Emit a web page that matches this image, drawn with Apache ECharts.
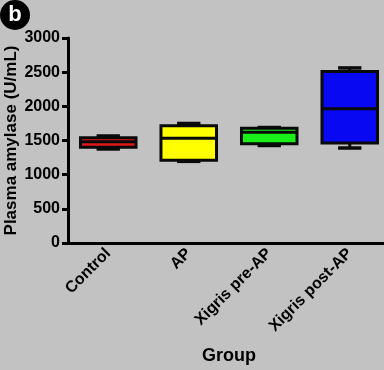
<!DOCTYPE html>
<html>
<head>
<meta charset="utf-8">
<script src="https://cdn.jsdelivr.net/npm/echarts@6/dist/echarts.min.js"></script>
<style>
html,body{margin:0;padding:0;background:#c2c2c2;}
#chart{width:384px;height:370px;}
</style>
</head>
<body>
<div id="chart"></div>
<script>
// Data
const categories = ['Control', 'AP', 'Xigris pre-AP', 'Xigris post-AP'];
const minVals    = [1376, 1195, 1427, 1390];
const q1Vals     = [1402, 1212, 1452, 1463];
const medianVals = [1480, 1532, 1620, 1965];
const q3Vals     = [1540, 1715, 1680, 2510];
const maxVals    = [1566, 1749, 1690, 2562];
const yTicks     = [0, 500, 1000, 1500, 2000, 2500, 3000];

const boxColors = ['#e01818', '#ffff00', '#19f019', '#0808f2'];

const seriesData = categories.map((c, i) => [i, minVals[i], q1Vals[i], medianVals[i], q3Vals[i], maxVals[i]]);

const chart = echarts.init(document.getElementById('chart'));
const font = 'Liberation Sans, Arial, sans-serif';

function renderItem(params, api) {
  const idx = api.value(0);
  const band = api.size([1, 0])[0];
  const boxW = band * 0.69;
  const capW = band * 0.29;
  const pMin = api.coord([idx, api.value(1)]);
  const pQ1 = api.coord([idx, api.value(2)]);
  const pMed = api.coord([idx, api.value(3)]);
  const pQ3 = api.coord([idx, api.value(4)]);
  const pMax = api.coord([idx, api.value(5)]);
  const cx = pMed[0];
  const black = '#0a0a0a';
  return {
    type: 'group',
    children: [
      { type: 'line', shape: {x1: cx, y1: pQ3[1], x2: cx, y2: pMax[1]}, style: {stroke: black, lineWidth: 3} },
      { type: 'line', shape: {x1: cx, y1: pQ1[1], x2: cx, y2: pMin[1]}, style: {stroke: black, lineWidth: 3} },
      { type: 'line', shape: {x1: cx - capW / 2, y1: pMax[1], x2: cx + capW / 2, y2: pMax[1]}, style: {stroke: black, lineWidth: 3.5} },
      { type: 'line', shape: {x1: cx - capW / 2, y1: pMin[1], x2: cx + capW / 2, y2: pMin[1]}, style: {stroke: black, lineWidth: 3.5} },
      { type: 'rect', shape: {x: cx - boxW / 2, y: pQ3[1], width: boxW, height: pQ1[1] - pQ3[1]},
        style: {fill: boxColors[idx], stroke: black, lineWidth: 3} },
      { type: 'line', shape: {x1: cx - boxW / 2, y1: pMed[1], x2: cx + boxW / 2, y2: pMed[1]}, style: {stroke: black, lineWidth: 3} }
    ]
  };
}

chart.setOption({
  backgroundColor: '#c2c2c2',
  animation: false,
  grid: {left: 68, right: -6, top: 38, bottom: 127, containLabel: false, outerBoundsMode: 'none'},
  graphic: [
    {type: 'circle', shape: {cx: 15, cy: 15, r: 15}, style: {fill: '#000'}},
    {type: 'text', x: 15, y: 15, style: {text: 'b', fill: '#fff', font: 'bold 22px ' + font, textAlign: 'center', textVerticalAlign: 'middle'}}
  ],
  xAxis: {
    type: 'category',
    data: categories,
    boundaryGap: true,
    name: 'Group',
    nameLocation: 'middle',
    nameGap: 104,
    nameMoveOverlap: false,
    nameTextStyle: {fontFamily: font, fontWeight: 'bold', fontSize: 18, color: '#000'},
    axisLine: {lineStyle: {color: '#000', width: 3}},
    axisTick: {alignWithLabel: true, length: 6, lineStyle: {color: '#000', width: 3}},
    axisLabel: {rotate: 45, margin: 8, fontFamily: font, fontWeight: 'bold', fontSize: 16, color: '#000', interval: 0}
  },
  yAxis: {
    type: 'value',
    min: yTicks[0],
    max: yTicks[yTicks.length - 1],
    interval: yTicks[1] - yTicks[0],
    name: 'Plasma amylase (U/mL)',
    nameLocation: 'middle',
    nameGap: 48,
    nameMoveOverlap: false,
    nameTextStyle: {fontFamily: font, fontWeight: 'bold', fontSize: 17, color: '#000'},
    axisLine: {show: true, lineStyle: {color: '#000', width: 3}},
    axisTick: {show: true, length: 6, lineStyle: {color: '#000', width: 3}},
    splitLine: {show: false},
    axisLabel: {margin: 8, fontFamily: font, fontWeight: 'bold', fontSize: 16, color: '#000', formatter: v => String(v)}
  },
  series: [{
    type: 'custom',
    renderItem: renderItem,
    encode: {x: 0, y: [1, 2, 3, 4, 5]},
    data: seriesData,
    clip: false
  }]
});
</script>
</body>
</html>
